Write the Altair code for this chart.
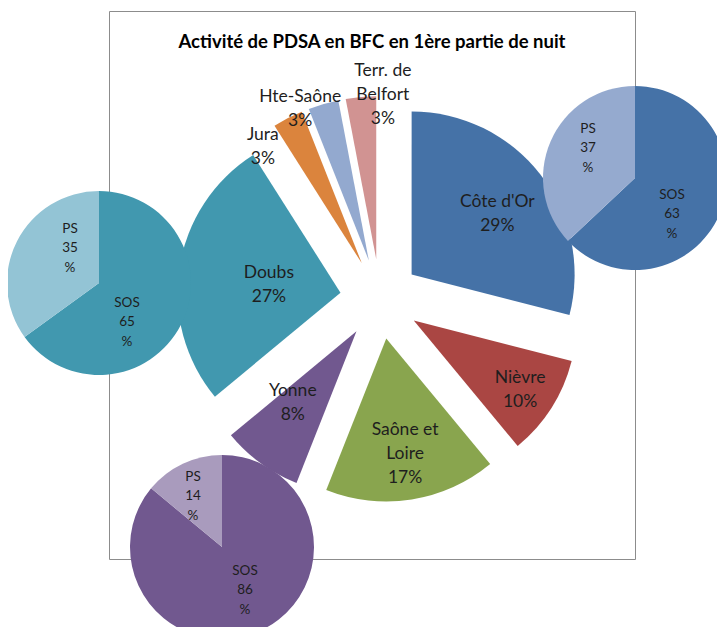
import math
import altair as alt
import pandas as pd

# ---------------- data ----------------
departements = ["Côte d'Or", "Nièvre", "Saône et Loire", "Yonne", "Doubs",
                "Jura", "Hte-Saône", "Terr. de Belfort"]
parts = [29, 10, 17, 8, 27, 3, 3, 3]
label_names = ["Côte d'Or", "Nièvre", "Saône et\nLoire", "Yonne", "Doubs",
               "Jura", "Hte-Saône", "Terr. de\nBelfort"]

sub_depts = ["Côte d'Or", "Doubs", "Yonne"]
sub_sos = [63, 65, 86]
sub_ps = [37, 35, 14]

title_text = "Activité de PDSA en BFC en 1ère partie de nuit"

# ---------------- styles / layout ----------------
palette = ["#4572A7", "#AA4643", "#89A54E", "#71588F", "#4198AF",
           "#DB843D", "#93A9CF", "#D19392"]
light = {"Côte d'Or": "#95AACF", "Doubs": "#93C4D5", "Yonne": "#A99BBD"}
FONT = "Lato"
TXT = "#1e1e1e"
MAIN_LH = 24
SUB_LH = 19.5

CX, CY = 271, 288      # pie centre (view pixels)
R, EXPL = 163, 40      # radius and explosion
SUB_R = 92
sub_centre = {"Côte d'Or": (526, 167), "Doubs": (-10, 272), "Yonne": (113, 536)}
# label placement: distance from pie centre and angular shift (degrees)
label_dist = {"Côte d'Or": 145, "Nièvre": 167, "Saône et Loire": 157, "Yonne": 136,
              "Doubs": 112, "Jura": 192, "Hte-Saône": 206, "Terr. de Belfort": 204}
label_shift = {"Côte d'Or": 1.8, "Nièvre": 0.6, "Saône et Loire": -0.2, "Yonne": 3.9,
               "Doubs": -1.8, "Jura": -10.6, "Hte-Saône": -6.6, "Terr. de Belfort": 6.2}
sub_label_off = {("Côte d'Or", "PS"): (-47, -30), ("Côte d'Or", "SOS"): (37, 36),
                 ("Doubs", "PS"): (-29, -35), ("Doubs", "SOS"): (28, 39),
                 ("Yonne", "PS"): (-29, -51), ("Yonne", "SOS"): (23, 43)}

# ---------------- tables ----------------
main = pd.DataFrame({"dept": departements, "part": parts, "name": label_names})
main["end"] = main["part"].cumsum()
main["start"] = main["end"] - main["part"]
mid = (main["start"] + main["end"]) / 2 / 100 * 2 * math.pi
main["px"] = CX + EXPL * mid.apply(math.sin)
main["py"] = CY - EXPL * mid.apply(math.cos)
ang = mid + main["dept"].map(label_shift) * math.pi / 180
main["label"] = main["name"] + "\n" + main["part"].astype(str) + "%"
nlines = main["label"].str.count("\n") + 1
main["lx"] = CX + main["dept"].map(label_dist) * ang.apply(math.sin)
main["ly"] = (CY - main["dept"].map(label_dist) * ang.apply(math.cos)
              - (nlines - 1) * MAIN_LH / 2)
main["key"] = main["dept"]

rows = []
for d, s, p in zip(sub_depts, sub_sos, sub_ps):
    cx, cy = sub_centre[d]
    for typ, start, end in (("SOS", 0, s), ("PS", s, s + p)):
        ox, oy = sub_label_off[(d, typ)]
        rows.append({"dept": d, "type": typ, "value": end - start,
                     "start": start, "end": end, "px": cx, "py": cy,
                     "lx": cx + ox, "ly": cy + oy - SUB_LH,
                     "key": d if typ == "SOS" else d + " PS",
                     "label": f"{typ}\n{end - start}\n%"})
sub = pd.DataFrame(rows)

dom = departements + [d + " PS" for d in sub_depts]
rng = palette + [light[d] for d in sub_depts]
color = alt.Color("key:N", scale=alt.Scale(domain=dom, range=rng), legend=None)
theta_scale = alt.Scale(domain=[0, 100], range=[0, 2 * math.pi])

X = lambda f: alt.X(f"{f}:Q", scale=None, axis=None)
Y = lambda f: alt.Y(f"{f}:Q", scale=None, axis=None)

main_arcs = alt.Chart(main).mark_arc(outerRadius=R).encode(
    x=X("px"), y=Y("py"),
    theta=alt.Theta("start:Q", scale=theta_scale), theta2="end:Q",
    color=color)

sub_arcs = alt.Chart(sub).mark_arc(outerRadius=SUB_R).encode(
    x=X("px"), y=Y("py"),
    theta=alt.Theta("start:Q", scale=theta_scale), theta2="end:Q",
    color=color)

main_text = alt.Chart(main).mark_text(
    font=FONT, fontSize=17.5, lineBreak="\n", lineHeight=MAIN_LH, color=TXT,
    align="center", baseline="middle").encode(
    x=X("lx"), y=Y("ly"), text="label:N")

sub_text = alt.Chart(sub).mark_text(
    font=FONT, fontSize=13.5, lineBreak="\n", lineHeight=SUB_LH, color=TXT,
    align="center", baseline="middle").encode(
    x=X("lx"), y=Y("ly"), text="label:N")

title = alt.Chart(pd.DataFrame({"t": [title_text]})).mark_text(
    font=FONT, fontSize=18.5, fontWeight="bold", color="#000",
    align="center", baseline="middle").encode(
    x=alt.value(263), y=alt.value(31), text="t:N")

chart = alt.layer(main_arcs, sub_arcs, main_text, sub_text, title).properties(
    width=526, height=548,
    autosize=alt.AutoSizeParams(type="none"),
    padding={"left": 101, "top": 3, "right": 82, "bottom": 68},
).configure_view(stroke="#8c8c8c", strokeWidth=1)

chart.save("out.html", embed_options={"renderer": "svg", "actions": False})
